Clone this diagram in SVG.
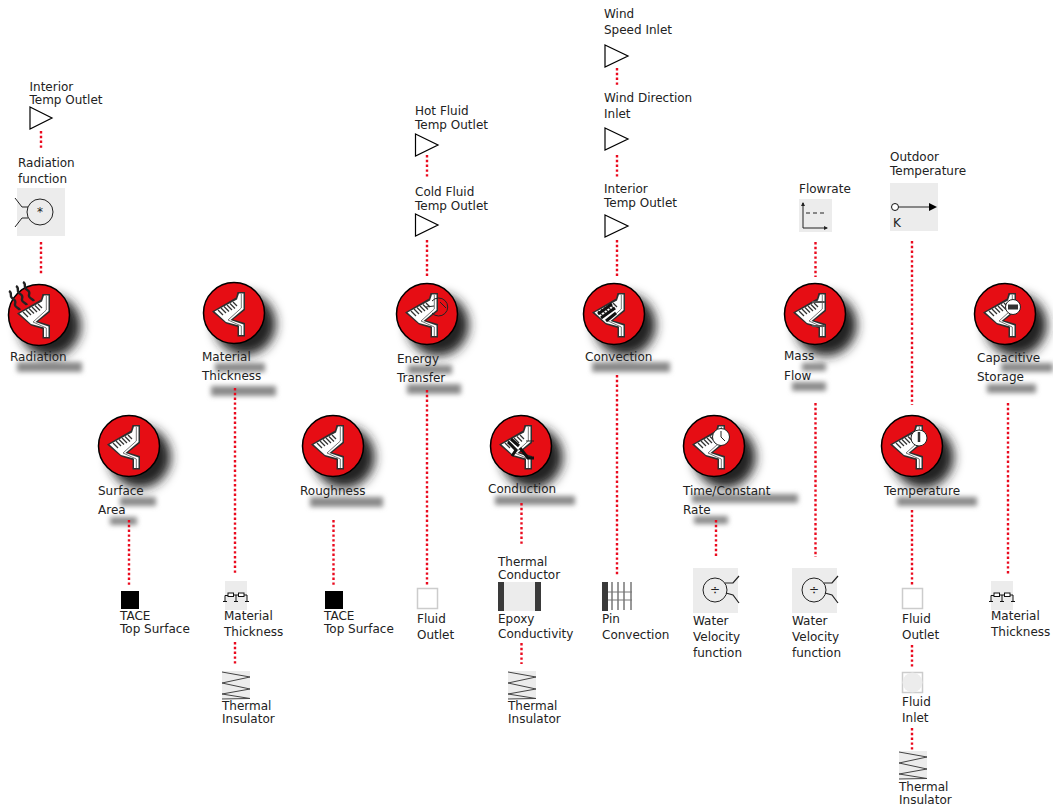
<svg xmlns="http://www.w3.org/2000/svg" xmlns:xlink="http://www.w3.org/1999/xlink" width="1053" height="806" viewBox="0 0 1053 806">
<style>
text{font-family:"DejaVu Sans",sans-serif;font-size:12px;fill:#222}
.c{fill:none;stroke:#ea0a1e;stroke-width:2.400;stroke-dasharray:2.400 2.400}
.box{fill:#ececec}
.tri{fill:#fff;stroke:#000;stroke-width:1.2}
.ln{fill:none;stroke:#222;stroke-width:1}
.sh{fill:#8a8a8a}
</style>
<defs>
<filter id="b1" x="-60%" y="-60%" width="220%" height="220%"><feGaussianBlur stdDeviation="5.500"/></filter>
<filter id="b2" x="-20%" y="-20%" width="140%" height="140%"><feGaussianBlur stdDeviation="2.400"/></filter>
<marker id="ah" markerWidth="5" markerHeight="5" refX="3" refY="2" orient="auto"><path d="M0 0L4 2L0 4z" fill="#222"/></marker>
<g id="disk">
<circle cx="11" cy="11" r="31" fill="#222" filter="url(#b1)"/>
<circle r="30.5" fill="#e60d14" stroke="#000" stroke-width="1.5"/>
<path d="M-22-1.500L2-15.500L3.500-21H11V-3L-1 6.500L11 10V23.500H3.500V14L-8 10.500Z" fill="#2f2f2f"/>
<path d="M-19.500-1.500L3-13.500L5-19.500H9.500V-4L-3.500 7L9.500 11.500V22H5V12.500L-8 9Z" fill="#fff"/>
<path d="M7.300-19V-5L-6 7L7.300 13V22" fill="none" stroke="#777" stroke-width="1"/>
<path d="M-16-3L-11 2M-13-5L-8 0M-10-6.500L-5-1.500M-7-8L-2-3M-4-9.500L1-4.500M-1-11L3-7" fill="none" stroke="#333" stroke-width="1.300"/>
</g>
<g id="ins">
<rect class="box" width="28" height="28"/>
<path d="M0 1L28 6L0 12L28 18L0 23L28 27.500L0 28" fill="none" stroke="#444" stroke-width="1"/>
</g>
<g id="mat">
<rect class="box" width="22" height="29"/>
<path d="M0 21V14.500H3M8.500 14H13.500M19 14H22V21M11 14V21" fill="none" stroke="#111"/>
<rect x="3" y="12" width="5.500" height="3.500" fill="#fff" stroke="#111"/>
<rect x="13.500" y="12" width="5.500" height="3.500" fill="#fff" stroke="#111"/>
<path d="M-2 20.500H2M9 20.500H13M20 20.500H24" stroke="#111"/>
</g>
<g id="div">
<rect class="box" width="45" height="45"/>
<circle cx="22" cy="22" r="12" fill="none" stroke="#222"/>
<path d="M32 15H40L46 8M33 25L40 27L46 35" fill="none" stroke="#222" stroke-width="1.200"/>
<text x="22" y="26" text-anchor="middle" font-size="11">÷</text>
</g>
</defs>

<g id="label-shadows" filter="url(#b2)">
<rect class="sh" x="17" y="362" width="65" height="10"/>
<rect class="sh" x="215" y="363" width="50" height="9"/>
<rect class="sh" x="211" y="386" width="65" height="10"/>
<rect class="sh" x="408" y="365" width="44" height="9"/>
<rect class="sh" x="407" y="384" width="54" height="10"/>
<rect class="sh" x="495" y="496" width="80" height="9"/>
<rect class="sh" x="592" y="362" width="78" height="10"/>
<rect class="sh" x="692" y="494" width="106" height="9"/>
<rect class="sh" x="694" y="516" width="34" height="8"/>
<rect class="sh" x="802" y="363" width="24" height="8"/>
<rect class="sh" x="792" y="382" width="34" height="9"/>
<rect class="sh" x="1001" y="363" width="52" height="9"/>
<rect class="sh" x="987" y="384" width="49" height="9"/>
<rect class="sh" x="897" y="497" width="80" height="9"/>
<rect class="sh" x="120" y="497" width="36" height="9"/>
<rect class="sh" x="110" y="517" width="27" height="8"/>
<rect class="sh" x="310" y="497" width="73" height="10"/>
</g>

<g id="connectors">
<path class="c" d="M41 131V150M41 242V274M129 520V585M235 388V575M235 642V665M333.500 520V585M427 155V178M427 240V277M427 390V585M521.500 503V545M521.500 643V664M617 68V87M617 155V177M617 240V277M617 375V575M716 520V557M815.500 242V277M815.500 403V557M912 241V405M912 510V585M912 645V667M912 728V750M1008 403V575"/>
</g>

<g id="n-interior-1"><path class="tri" d="M30 107L52 118L30 129Z"/><text x="29.500" y="91">Interior</text><text x="29.500" y="104">Temp Outlet</text></g>
<g id="n-radiation-fn"><text x="18" y="167">Radiation</text><text x="18" y="183">function</text><rect class="box" x="17" y="188" width="48" height="48"/><circle cx="40" cy="212" r="13" fill="none" stroke="#222"/><path d="M28 207H22L15 198M28 218H22L15 227" class="ln"/><text x="40" y="216" text-anchor="middle" font-size="11">*</text></g>
<g id="n-radiation"><use xlink:href="#disk" href="#disk" x="39" y="315"/><path d="M9 291c4 2 0 5 3 7s4 3 3 6 4 4 5 6M16 286c4 2 0 5 3 7s4 3 3 6 4 4 5 6M23 282c4 2 0 5 3 7s4 3 3 6 4 4 5 6" fill="none" stroke="#222" stroke-width="2.400"/><text x="10" y="361">Radiation</text></g>
<g id="n-surface"><use xlink:href="#disk" href="#disk" x="129" y="446"/><text x="98" y="495">Surface</text><text x="98" y="514">Area</text></g>
<g id="n-tace-1"><rect x="121" y="591" width="18" height="18" fill="#000"/><text x="120" y="620">TACE</text><text x="120" y="633">Top Surface</text></g>
<g id="n-thickness"><use xlink:href="#disk" href="#disk" x="234" y="313"/><text x="202" y="361">Material</text><text x="202" y="380">Thickness</text></g>
<g id="n-mat-1"><use xlink:href="#mat" href="#mat" x="225" y="581"/><text x="224" y="620">Material</text><text x="224" y="636">Thickness</text></g>
<g id="n-ins-1"><use xlink:href="#ins" href="#ins" x="222" y="671"/><text x="222" y="710">Thermal</text><text x="222" y="723">Insulator</text></g>
<g id="n-roughness"><use xlink:href="#disk" href="#disk" x="333" y="446"/><text x="300" y="495">Roughness</text></g>
<g id="n-tace-2"><rect x="325" y="591" width="18" height="18" fill="#000"/><text x="324" y="620">TACE</text><text x="324" y="633">Top Surface</text></g>
<g id="n-hot"><path class="tri" d="M415.500 134L438 145L415.500 156Z"/><text x="415" y="115">Hot Fluid</text><text x="415" y="129">Temp Outlet</text></g>
<g id="n-cold"><path class="tri" d="M415.500 214L438 225L415.500 236Z"/><text x="415" y="196">Cold Fluid</text><text x="415" y="210">Temp Outlet</text></g>
<g id="n-energy"><use xlink:href="#disk" href="#disk" x="427" y="314"/><path d="M432 301a9 9 0 1 1 0 12" fill="none" stroke="#222"/><path d="M426 307L434 306M440 302L446 308" stroke="#222"/><text x="397" y="363">Energy</text><text x="397" y="382">Transfer</text></g>
<g id="n-fluid-out-1"><rect x="417.500" y="588.500" width="20" height="20" fill="#fff" stroke="#ccc" stroke-width="1.500"/><text x="417" y="623">Fluid</text><text x="417" y="639">Outlet</text></g>
<g id="n-conduction"><use xlink:href="#disk" href="#disk" x="521" y="446"/><path d="M508 442L516 450L512 456M511 439L519 446M520 448L528 458H534" fill="none" stroke="#111" stroke-width="3"/><path d="M526 441H534" stroke="#222"/><text x="488" y="493">Conduction</text></g>
<g id="n-conductor"><text x="498" y="566">Thermal</text><text x="498" y="579">Conductor</text><rect class="box" x="498" y="582" width="43" height="29"/><rect x="498" y="582" width="6" height="29" fill="#3a3a3a"/><rect x="535" y="582" width="6" height="29" fill="#3a3a3a"/><text x="498" y="623">Epoxy</text><text x="498" y="638">Conductivity</text></g>
<g id="n-ins-2"><use xlink:href="#ins" href="#ins" x="508" y="671"/><text x="508" y="710">Thermal</text><text x="508" y="723">Insulator</text></g>
<g id="n-wind-speed"><path class="tri" d="M605 45L628 56L605 67Z"/><text x="604" y="18">Wind</text><text x="604" y="34">Speed Inlet</text></g>
<g id="n-wind-dir"><path class="tri" d="M605 128L628 139L605 150Z"/><text x="604" y="102">Wind Direction</text><text x="604" y="118">Inlet</text></g>
<g id="n-interior-2"><path class="tri" d="M605 215L628 226L605 237Z"/><text x="604" y="193">Interior</text><text x="604" y="207">Temp Outlet</text></g>
<g id="n-convection"><use xlink:href="#disk" href="#disk" x="614" y="314"/><path d="M598 314L612 304M601 318L615 308M606 321L616 313" stroke="#111" stroke-width="3"/><text x="585" y="361">Convection</text></g>
<g id="n-pin"><rect x="602" y="582" width="6" height="29" fill="#3a3a3a"/><path d="M612 582V610M618 582V610M624 582V610M631 582V610" stroke="#333"/><path d="M608 592H632M608 600H632" stroke="#777"/><text x="602" y="623">Pin</text><text x="602" y="639">Convection</text></g>
<g id="n-time"><use xlink:href="#disk" href="#disk" x="714" y="446"/><circle cx="721" cy="437" r="8.500" fill="#fff" stroke="#222"/><path d="M721 431V437L725 441" class="ln"/><text x="683" y="495">Time/Constant</text><text x="683" y="514">Rate</text></g>
<g id="n-div-1"><use xlink:href="#div" href="#div" x="693" y="568"/><text x="693" y="625">Water</text><text x="693" y="641">Velocity</text><text x="693" y="657">function</text></g>
<g id="n-flowrate"><text x="799" y="193">Flowrate</text><rect class="box" x="799" y="199" width="33" height="33"/><path d="M803 203V228H827" class="ln" marker-end="url(#ah)"/><path d="M803 205V203" class="ln" marker-end="url(#ah)"/><path d="M806 213H826" class="ln" stroke-dasharray="4 3"/></g>
<g id="n-mass"><use xlink:href="#disk" href="#disk" x="815" y="314"/><path d="M812 302H825M812 326H825" stroke="#555" stroke-width="2"/><text x="784" y="360">Mass</text><text x="784" y="380">Flow</text></g>
<g id="n-div-2"><use xlink:href="#div" href="#div" x="792" y="568"/><text x="792" y="625">Water</text><text x="792" y="641">Velocity</text><text x="792" y="657">function</text></g>
<g id="n-outdoor"><text x="890" y="161">Outdoor</text><text x="890" y="175">Temperature</text><rect class="box" x="890" y="183" width="48" height="48"/><path d="M899 207H930" stroke="#222"/><path d="M929 203L937 207L929 211Z" fill="#000"/><circle cx="895" cy="207" r="3.500" fill="#fff" stroke="#111"/><text x="893" y="227" font-size="10">K</text></g>
<g id="n-temperature"><use xlink:href="#disk" href="#disk" x="912" y="446"/><circle cx="919" cy="438" r="8" fill="#fff" stroke="#222"/><path d="M919 432V442" stroke="#333" stroke-width="2.500"/><text x="884" y="495">Temperature</text></g>
<g id="n-fluid-out-2"><rect x="902.500" y="588.500" width="20" height="20" fill="#fff" stroke="#ccc" stroke-width="1.500"/><text x="902" y="623">Fluid</text><text x="902" y="639">Outlet</text></g>
<g id="n-fluid-in"><rect x="902.500" y="672.500" width="20" height="20" fill="#fff" stroke="#ccc" stroke-width="1.500"/><circle cx="912.500" cy="682.500" r="10" fill="#ececec"/><text x="902" y="706">Fluid</text><text x="902" y="722">Inlet</text></g>
<g id="n-ins-3"><use xlink:href="#ins" href="#ins" x="899" y="751"/><text x="899" y="791">Thermal</text><text x="899" y="804">Insulator</text></g>
<g id="n-capacitive"><use xlink:href="#disk" href="#disk" x="1005" y="314"/><circle cx="1013" cy="307" r="7.500" fill="#fff" stroke="#222"/><rect x="1008" y="304.500" width="10" height="5" fill="#333"/><text x="977" y="362">Capacitive</text><text x="977" y="381">Storage</text></g>
<g id="n-mat-2"><use xlink:href="#mat" href="#mat" x="991" y="581"/><text x="991" y="620">Material</text><text x="991" y="636">Thickness</text></g>
</svg>
